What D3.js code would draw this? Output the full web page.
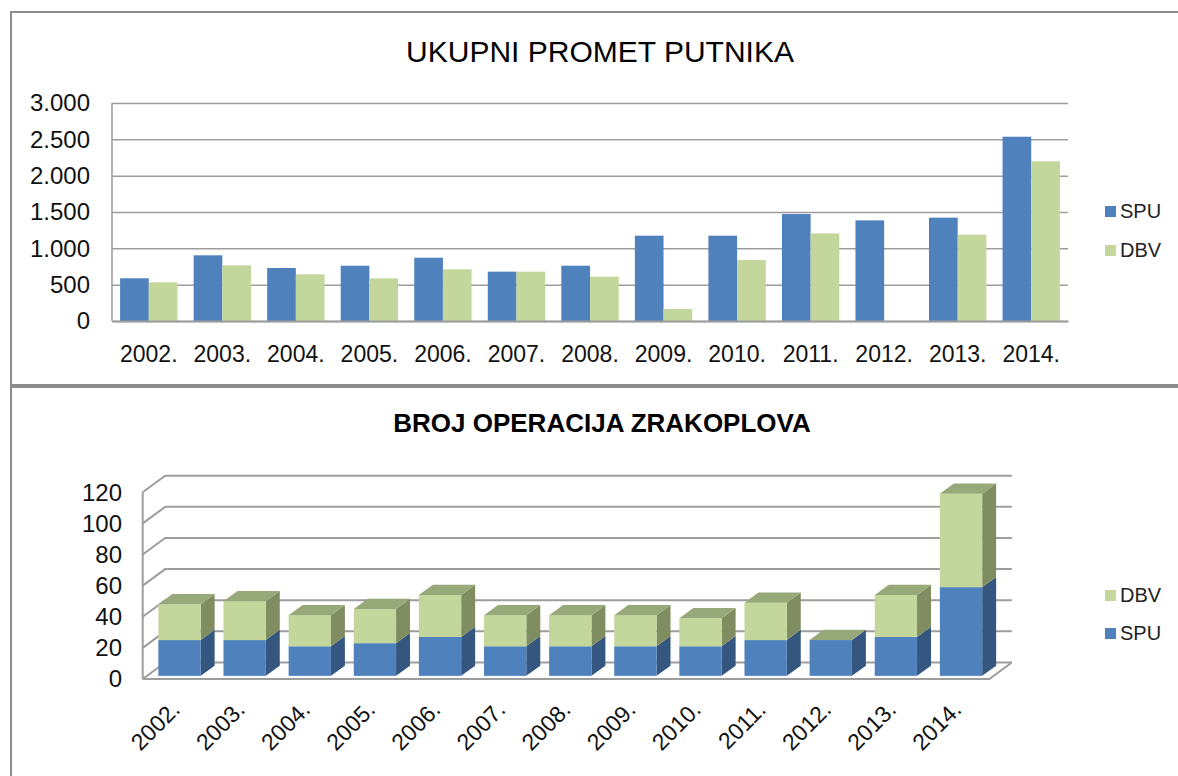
<!DOCTYPE html>
<html>
<head>
<meta charset="utf-8">
<script src="https://cdn.jsdelivr.net/npm/d3@7"></script>
<style>
  body { margin: 0; background: #fff; }
  svg { display: block; font-family: "Liberation Sans", Arial, sans-serif; }
</style>
</head>
<body>
<script>
// years shared by both charts
var years = ["2002.", "2003.", "2004.", "2005.", "2006.", "2007.", "2008.",
             "2009.", "2010.", "2011.", "2012.", "2013.", "2014."];

// UKUPNI PROMET PUTNIKA (passengers, thousands)
var spuPassengers = [588, 904, 729, 761, 871, 679, 761, 1174, 1174, 1472, 1385, 1422, 2536];
var dbvPassengers = [532, 766, 642, 587, 711, 679, 610, 165, 839, 1206, 0, 1188, 2198];
var passengerTicks = [0, 500, 1000, 1500, 2000, 2500, 3000];

// BROJ OPERACIJA ZRAKOPLOVA (aircraft operations, thousands)
var spuOps = [23, 23, 19, 21, 25, 19, 19, 19, 19, 23, 23, 25, 57];
var dbvOps = [23, 25, 20, 22, 27, 20, 20, 20, 18, 24, 0, 27, 60];
var opsTicks = [0, 20, 40, 60, 80, 100, 120];

var blue = "#4F81BD", green = "#C3D69B";
var gridColor = "#9d9d9d";

var locale = d3.formatLocale({decimal: ",", thousands: ".", grouping: [3], currency: ["", ""]});
var fmt = locale.format(",.0f");

var svg = d3.select("body").append("svg")
    .attr("width", 1178)
    .attr("height", 776);

// frames of the two charts
svg.append("rect").attr("x", 11).attr("y", 12).attr("width", 1180).attr("height", 373)
    .attr("fill", "none").attr("stroke", "#8c8c8c").attr("stroke-width", 2);
svg.append("rect").attr("x", 11).attr("y", 387).attr("width", 1180).attr("height", 420)
    .attr("fill", "none").attr("stroke", "#8c8c8c").attr("stroke-width", 2);

// ---------- top chart: grouped bars ----------
var plot = {left: 112, right: 1068, top: 103, bottom: 321};

svg.append("text")
    .attr("x", 600).attr("y", 62)
    .attr("text-anchor", "middle")
    .style("font-size", "30px")
    .text("UKUPNI PROMET PUTNIKA");

var x0 = d3.scaleBand()
    .domain(years)
    .range([plot.left, plot.right])
    .paddingInner(0.22)
    .paddingOuter(0.11);
var x1 = d3.scaleBand()
    .domain(["SPU", "DBV"])
    .range([0, x0.bandwidth()]);
var y = d3.scaleLinear()
    .domain([0, 3000])
    .range([plot.bottom, plot.top]);

// y axis with gridlines
var yAxis = svg.append("g")
    .attr("transform", "translate(" + plot.left + ",0)")
    .call(d3.axisLeft(y).tickValues(passengerTicks).tickFormat(fmt)
        .tickSize(-(plot.right - plot.left)).tickPadding(22));
yAxis.select(".domain").remove();
yAxis.selectAll("line").attr("stroke", gridColor).attr("stroke-width", 1.5);
yAxis.selectAll("text").style("font-size", "24px").attr("fill", "#111")
    .style("font-family", "'Liberation Sans', Arial, sans-serif");

svg.append("line")
    .attr("x1", plot.left).attr("x2", plot.left)
    .attr("y1", plot.top).attr("y2", plot.bottom)
    .attr("stroke", gridColor).attr("stroke-width", 1.5);

var groups = svg.append("g").selectAll("g")
    .data(years)
    .enter().append("g")
    .attr("transform", function(d) { return "translate(" + x0(d) + ",0)"; });

groups.append("rect")
    .attr("x", x1("SPU"))
    .attr("width", x1.bandwidth())
    .attr("y", function(d, i) { return y(spuPassengers[i]); })
    .attr("height", function(d, i) { return y(0) - y(spuPassengers[i]); })
    .attr("fill", blue);
groups.append("rect")
    .attr("x", x1("DBV"))
    .attr("width", x1.bandwidth())
    .attr("y", function(d, i) { return y(dbvPassengers[i]); })
    .attr("height", function(d, i) { return y(0) - y(dbvPassengers[i]); })
    .attr("fill", green);

// x axis
var xAxis = svg.append("g")
    .attr("transform", "translate(0," + plot.bottom + ")")
    .call(d3.axisBottom(x0).tickSize(0).tickPadding(25));
xAxis.select(".domain").attr("stroke", gridColor).attr("stroke-width", 2);
xAxis.selectAll("text").style("font-size", "23px").attr("fill", "#111")
    .style("font-family", "'Liberation Sans', Arial, sans-serif");

// legend
var legTop = [{name: "SPU", color: blue, y: 211}, {name: "DBV", color: green, y: 250}];
var lt = svg.append("g").selectAll("g").data(legTop).enter().append("g");
lt.append("rect").attr("x", 1105).attr("y", function(d) { return d.y - 5; })
    .attr("width", 11).attr("height", 11).attr("fill", function(d) { return d.color; });
lt.append("text").attr("x", 1120).attr("y", function(d) { return d.y + 7; })
    .style("font-size", "20px").attr("fill", "#222")
    .text(function(d) { return d.name; });

// ---------- bottom chart: 3D stacked bars ----------
svg.append("text")
    .attr("x", 602).attr("y", 432)
    .attr("text-anchor", "middle")
    .style("font-size", "26px").style("font-weight", "bold")
    .text("BROJ OPERACIJA ZRAKOPLOVA");

var floor = {left: 142.7, right: 989.3, front: 679};
var depth = {dx: 22.5, dy: -16.5};          // full depth of the floor
var barFront = 0.19, barBack = 0.81;        // bar position inside the depth

var xb = d3.scaleBand()
    .domain(years)
    .range([floor.left, floor.right])
    .paddingInner(0.35)
    .paddingOuter(0.175);
var h = d3.scaleLinear()
    .domain([0, 120])
    .range([0, 186.8]);

var walls = svg.append("g").attr("fill", "none")
    .attr("stroke", gridColor).attr("stroke-width", 2);

// back wall + left wall gridlines
opsTicks.forEach(function(t) {
    var fy = floor.front - h(t);
    var by = fy + depth.dy;
    walls.append("path")
        .attr("d", "M" + floor.left + "," + fy +
                   "L" + (floor.left + depth.dx) + "," + by +
                   "L" + (floor.right + depth.dx) + "," + by);
});
// left wall edge
walls.append("line")
    .attr("x1", floor.left).attr("x2", floor.left)
    .attr("y1", floor.front).attr("y2", floor.front - h(120));
// floor outline
walls.append("path")
    .attr("d", "M" + floor.left + "," + floor.front +
               "L" + floor.right + "," + floor.front +
               "L" + (floor.right + depth.dx) + "," + (floor.front + depth.dy));

// y labels
svg.append("g").selectAll("text")
    .data(opsTicks)
    .enter().append("text")
    .attr("x", 122)
    .attr("y", function(d) { return floor.front - h(d); })
    .attr("dy", "0.35em")
    .attr("text-anchor", "end")
    .style("font-size", "24px").attr("fill", "#111")
    .text(function(d) { return d; });

// one 3D box: side face, front face, optional top face
function box(g, x, base, val0, val1, c) {
    var w = xb.bandwidth();
    var ox = depth.dx * barFront, oy = depth.dy * barFront;
    var dx = depth.dx * (barBack - barFront), dy = depth.dy * (barBack - barFront);
    var fx = x + ox;
    var y0 = base + oy - h(val0), y1 = base + oy - h(val1);
    g.append("path")
        .attr("d", "M" + (fx + w) + "," + y0 + "L" + (fx + w + dx) + "," + (y0 + dy) +
                   "L" + (fx + w + dx) + "," + (y1 + dy) + "L" + (fx + w) + "," + y1 + "Z")
        .attr("fill", c.side);
    g.append("rect")
        .attr("x", fx).attr("y", y1)
        .attr("width", w).attr("height", y0 - y1)
        .attr("fill", c.front);
    if (c.top) {
        g.append("path")
            .attr("d", "M" + fx + "," + y1 + "L" + (fx + dx) + "," + (y1 + dy) +
                       "L" + (fx + w + dx) + "," + (y1 + dy) + "L" + (fx + w) + "," + y1 + "Z")
            .attr("fill", c.top);
    }
}

var blue3d = {front: blue, side: "#34567F"};
var green3d = {front: green, side: "#7F8D60", top: "#97A979"};

var bars = svg.append("g");
years.forEach(function(yr, i) {
    var g = bars.append("g");
    box(g, xb(yr), floor.front, 0, spuOps[i], blue3d);
    box(g, xb(yr), floor.front, spuOps[i], spuOps[i] + dbvOps[i], green3d);
});

// rotated x labels
svg.append("g").selectAll("text")
    .data(years)
    .enter().append("text")
    .attr("transform", function(d) {
        return "translate(" + (xb(d) + xb.bandwidth() / 2 + 6) + ",711) rotate(-45)";
    })
    .attr("text-anchor", "end")
    .style("font-size", "23px").attr("fill", "#111")
    .text(function(d) { return d; });

// legend (DBV on top, as in stacked order)
var legBottom = [{name: "DBV", color: green, y: 595}, {name: "SPU", color: blue, y: 633}];
var lb = svg.append("g").selectAll("g").data(legBottom).enter().append("g");
lb.append("rect").attr("x", 1105).attr("y", function(d) { return d.y - 5; })
    .attr("width", 11).attr("height", 11).attr("fill", function(d) { return d.color; });
lb.append("text").attr("x", 1120).attr("y", function(d) { return d.y + 7; })
    .style("font-size", "20px").attr("fill", "#222")
    .text(function(d) { return d.name; });
</script>
</body>
</html>
